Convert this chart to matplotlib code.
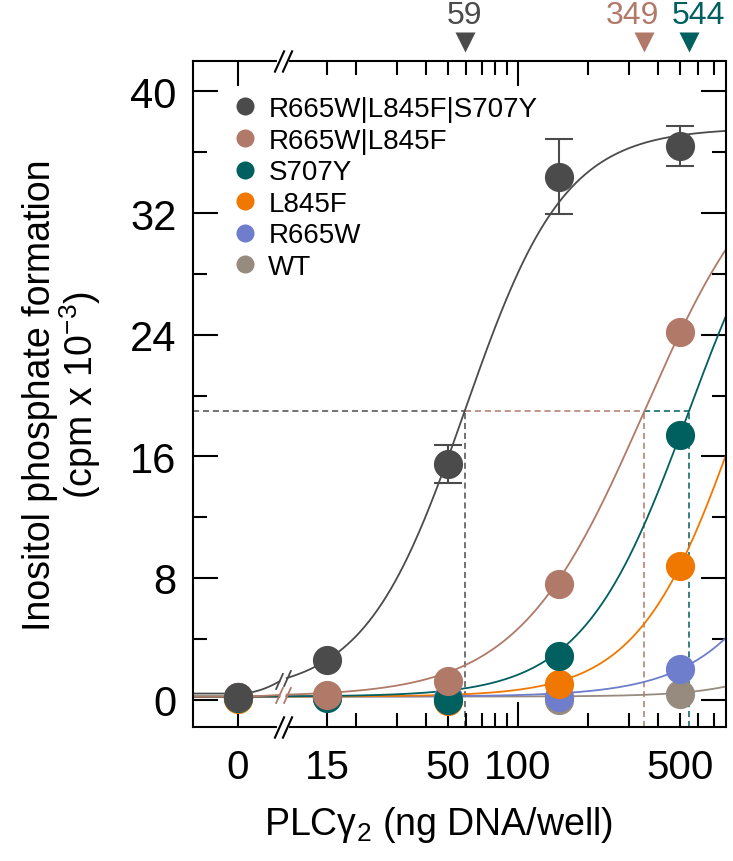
import numpy as np
import matplotlib
matplotlib.use('Agg')
import matplotlib.pyplot as plt
from matplotlib.lines import Line2D
from matplotlib.transforms import offset_copy

plt.rcParams['font.family'] = ['Liberation Sans', 'DejaVu Sans']
plt.rcParams['mathtext.fontset'] = 'custom'
plt.rcParams['mathtext.rm'] = 'Liberation Sans'
plt.rcParams['mathtext.default'] = 'regular'

# data
names = ['R665W|L845F|S707Y', 'R665W|L845F', 'S707Y', 'L845F', 'R665W', 'WT']
colors = ['#4b4b4b', '#b07968', '#005f5f', '#f07800', '#6e7dcc', '#978a7e']
dna = [0, 15, 50, 150, 500]
ip_triple = [0.2, 2.6, 15.5, 34.4, 36.4]
ip_double = [0.2, 0.3, 1.2, 7.6, 24.2]
ip_s707y = [0.1, 0.1, 0.0, 2.9, 17.4]
ip_l845f = [0.05, 0.15, -0.1, 1.05, 8.8]
ip_r665w = [0.15, 0.2, 0.1, 0.2, 2.0]
ip_wt = [0.15, 0.2, 0.1, 0.0, 0.4]
err_triple = [0, 0, 1.25, 2.45, 1.3]
series = [ip_triple, ip_double, ip_s707y, ip_l845f, ip_r665w, ip_wt]

# fitted curve parameters (Hill)
ec50 = [59, 349, 544, 918, 2600, 5000]
hill_n = [2.02, 1.6, 1.9, 1.99, 1.81, 2.17]
bottoms = [0.4, 0.2, 0.2, 0.2, 0.2, 0.2]
top = 37.6
half_max = 19.0
ec50_shown = [59, 349, 544]
ec50_label_shift = [0, -8, 7]  # points, labels nudged apart

# broken x axis: linear piece around 0, log10 beyond the break
u0 = 0.793
ub = 0.987
xb = 10 ** ub
k = (ub - u0) / xb


def fwd(x):
    x = np.asarray(x, dtype=float)
    return np.where(x < xb, u0 + k * x, np.log10(np.maximum(x, xb)))


def inv(u):
    u = np.asarray(u, dtype=float)
    return np.where(u < ub, (u - u0) / k, 10 ** np.maximum(u, ub))


def hill(x, i):
    x = np.asarray(x, dtype=float)
    xs = np.maximum(x, 1e-9)
    y = bottoms[i] + (top - bottoms[i]) / (1 + (ec50[i] / xs) ** hill_n[i])
    return np.where(x > 0, y, bottoms[i])


fig = plt.figure(figsize=(7.33, 8.62), dpi=100)
ax = fig.add_axes([193 / 733, 1 - 728 / 862, 533 / 733, 666 / 862])
ax.set_xscale('function', functions=(fwd, inv))
u_left, u_right = 0.599, 2.897
ax.set_xlim(float(inv(u_left)), float(inv(u_right)))
ax.set_ylim(-1.8, 42)

gap = 0.016
xl = inv(np.linspace(u_left, ub - gap, 60))
xr = inv(np.linspace(ub + gap, u_right, 300))

# dashed EC50 guides
dash = (0, (4, 2.5))
ax.plot([inv(u_left), ec50_shown[0]], [half_max, half_max], ls=dash, lw=1.1, c=colors[0], zorder=1)
ax.plot([ec50_shown[0], ec50_shown[1]], [half_max, half_max], ls=dash, lw=1.1, c=colors[1], zorder=1)
ax.plot([ec50_shown[1], ec50_shown[2]], [half_max, half_max], ls=dash, lw=1.1, c=colors[2], zorder=1)
for i in range(3):
    ax.plot([ec50_shown[i], ec50_shown[i]], [-1.8, half_max], ls=dash, lw=1.1, c=colors[i], zorder=1)

# curves and points, drawn bottom series first
for i in reversed(range(len(names))):
    ax.plot(xl, hill(xl, i), c=colors[i], lw=1.3, zorder=2 + (5 - i) * 0.1)
    ax.plot(xr, hill(xr, i), c=colors[i], lw=1.3, zorder=2 + (5 - i) * 0.1)
    ax.plot(dna, series[i], 'o', ms=21, c=colors[i], mec='none', zorder=4 + (5 - i) * 0.1)

ax.errorbar(dna[2:], ip_triple[2:], yerr=err_triple[2:], fmt='none', ecolor=colors[0],
            elinewidth=1.5, capsize=10, capthick=1.5, zorder=3.9)

# break marks on curves
slash = [(-0.45, -1), (0.45, 1)]
for i in (0, 1):
    for u in (ub - gap, ub + gap):
        xx = float(inv(u))
        ax.plot([xx], [float(hill(xx, i))], marker=slash, ms=12, mew=1.3, c=colors[i], zorder=3)

# break marks on the top and bottom spines
trans = ax.get_xaxis_transform()
for yy in (0, 1):
    ax.plot([inv(ub - gap), inv(ub + gap)], [yy, yy], c='white', lw=3, transform=trans,
            clip_on=False, zorder=10)
    for u in (ub - gap, ub + gap):
        ax.plot([inv(u)], [yy], marker=slash, ms=16, mew=1.5, c='black', transform=trans,
                clip_on=False, zorder=11)

# EC50 markers above the plot
for i in range(3):
    ax.plot([ec50_shown[i]], [1.0285], marker='v', ms=14, c=colors[i], mec='none',
            transform=trans, clip_on=False)
    tt = offset_copy(trans, fig=fig, x=ec50_label_shift[i], y=0, units='points')
    ax.text(ec50_shown[i], 1.069, str(ec50_shown[i]), color=colors[i], fontsize=23,
            ha='center', va='center', transform=tt)

# ticks
ax.set_yticks([0, 8, 16, 24, 32, 40])
ax.set_yticks([4, 12, 20, 28, 36], minor=True)
ax.set_xticks([0, 100], labels=['0', '100'])
minor_x = [15, 20, 30, 40, 50, 60, 70, 80, 90, 200, 300, 400, 500, 600, 700]
minor_lab = ['15', '', '', '', '50', '', '', '', '', '', '', '', '500', '', '']
ax.set_xticks(minor_x, labels=minor_lab, minor=True)
ax.tick_params(which='both', direction='in', top=True, right=True, width=1.5, pad=12)
ax.tick_params(which='major', length=18)
ax.tick_params(which='minor', length=10)
ax.tick_params(axis='y', which='both', labelsize=30)
ax.tick_params(axis='x', which='both', labelsize=29, pad=15)
for s in ax.spines.values():
    s.set_linewidth(1.5)

ax.set_xlabel('PLCγ$_2$ (ng DNA/well)', fontsize=27, labelpad=13)
ax.xaxis.label.set_x(0.46)
ax.set_ylabel('Inositol phosphate formation\n(cpm x 10$^{-3}$)', fontsize=27,
              labelpad=19, linespacing=1.0)

handles = [Line2D([], [], ls='none', marker='o', ms=13, c=c, mec='none') for c in colors]
ax.legend(handles, names, loc='upper left', bbox_to_anchor=(0.045, 0.968), frameon=False,
          fontsize=20, handletextpad=0.35, labelspacing=0.2, borderpad=0, handlelength=1.0)

fig.savefig('out.png', dpi=100)
